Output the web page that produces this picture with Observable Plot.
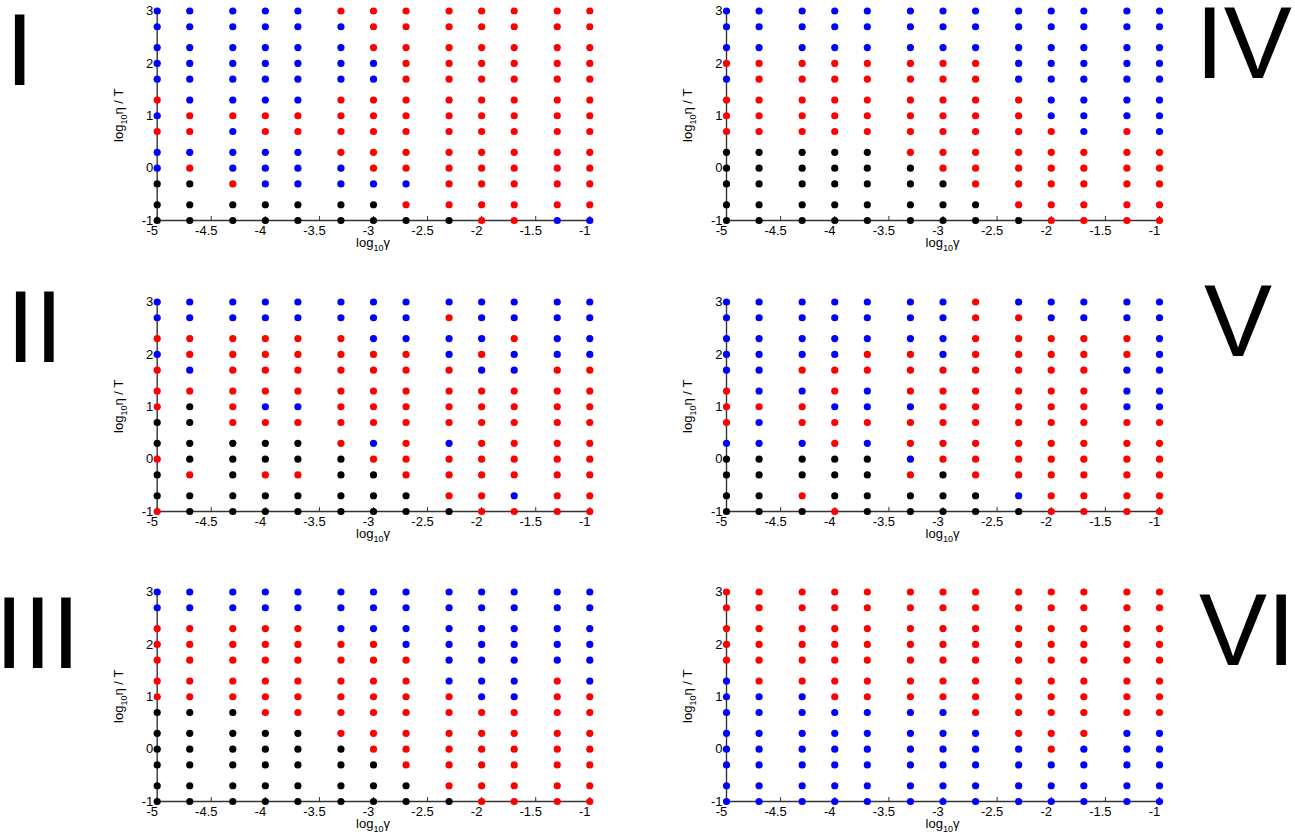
<!DOCTYPE html>
<html>
<head>
<meta charset="utf-8">
<script src="https://cdn.jsdelivr.net/npm/d3@7"></script>
<script src="https://cdn.jsdelivr.net/npm/@observablehq/plot@0.6"></script>
<style>
  html, body { margin: 0; padding: 0; background: #fff; }
  #root { position: relative; width: 1295px; height: 836px; overflow: hidden; background: #fff; }
  .panel { position: absolute; }
  #overlay { position: absolute; left: 0; top: 0; pointer-events: none; }
</style>
</head>
<body>
<div id="root"></div>
<script>
// ---- data ----
const gammaValues = [1e-5, 2e-5, 5e-5, 1e-4, 2e-4, 5e-4, 1e-3, 2e-3, 5e-3, 1e-2, 2e-2, 5e-2, 1e-1];
const etaValues = [1000, 500, 200, 100, 50, 20, 10, 5, 2, 1, 0.5, 0.2, 0.1]; // rows, top to bottom
const xTickValues = [-5, -4.5, -4, -3.5, -3, -2.5, -2, -1.5, -1];
const yTickValues = [-1, 0, 1, 2, 3];
const panelNames = ["I", "II", "III", "IV", "V", "VI"];
const stateColors = { k: "#000000", r: "#ff0000", b: "#0000ff" };

const panelI = [
  "bbbbbrrrrrrrr",
  "bbbbbbrrrrrrr",
  "bbbbbbrrrrrrr",
  "bbbbbbbrrrrrr",
  "bbbbbbbrrrrrr",
  "rbbbbrrrrrrrr",
  "brrrrrrrrrrrr",
  "rrbrrrrrrrrrr",
  "bbbbbrrrrrrrr",
  "brbbbbrrrrrrr",
  "kkrbbbbbrrrrr",
  "kkkkkkkrrrrrr",
  "kkkkkkkkkrrbb"
];
const panelII = [
  "bbbbbbbbbbbbb",
  "bbbbbbbbrbbbb",
  "rrrrrrbbbbrbb",
  "brrrrrrrbrbbb",
  "rbrrrrrrrbbrr",
  "rrrrrrrrrrrrr",
  "rkrbbrrrrrrrr",
  "kkrrrrrrrrrrr",
  "kkkkkrbrbrrrr",
  "rkkkkkrrrrrrr",
  "krkrrkkrrrrrr",
  "kkkkkkkkrrbrr",
  "rkkkkkkkkrrrr"
];
const panelIII = [
  "bbbbbbbbbbbbb",
  "bbbbbbbbbbbbb",
  "rrrrrbbbbbbbb",
  "rrrrrrrbbbbbb",
  "rrrrrrrrbbbbb",
  "rrrrrrrrbbbrb",
  "rrrrrrrrrbbrr",
  "kkkrrrrrrrrrr",
  "kkkkkrrrrrrrr",
  "kkkkkkrrrrrrr",
  "kkkkkkkrrrrrr",
  "kkkkkkkkrrrrr",
  "kkkkkkkkkrrrr"
];
const panelIV = [
  "bbbbbbbbbbbbb",
  "bbbbbbbbbbbbb",
  "bbbbbbbbbbbbb",
  "rrrrrrrrbbbbb",
  "brrrrrrrbbbbb",
  "rrrrrrrrrbbbb",
  "rrrrrrrrrbbbb",
  "rrrrrrrrrrbrb",
  "kkkkkrrrrrrrr",
  "kkkkkkrrrrrrr",
  "kkkkkkkrrrrrr",
  "kkkkkkkkrrrrr",
  "kkkkkkkkkrrrr"
];
const panelV = [
  "bbbbbbbrbbbbb",
  "bbbbbbbrrbbbb",
  "bbbbbbbrrrrrb",
  "bbbbrrbrrrrrb",
  "bbrrrrrrrrrbb",
  "rbbrbrrrrrrbb",
  "rrrbbbrrrrrbb",
  "rbrrrrrrrrrrr",
  "bbbrbrrrrrrrr",
  "kkkkkbrrrrrrr",
  "kkkkkrkrrrrrr",
  "kkrkkkkkbrrrr",
  "kkkrkkkkkrrrr"
];
const panelVI = [
  "rrrrrrrrrrrrr",
  "rrrrrrrrrrrrr",
  "rrrrrrrrrrrrr",
  "rrrrrrrrrrrrr",
  "rrrrrrrrrrrrr",
  "brrrrrrrrrrrr",
  "bbbrrrrrrrrrr",
  "bbbbbbbrrrrrr",
  "bbbbbbbbrrrbb",
  "bbbbbbbbbrbbb",
  "bbbbbbbbbbbbb",
  "bbbbbbbbbbbbb",
  "bbbbbbbbbbbbb"
];
const panelStates = [panelI, panelII, panelIII, panelIV, panelV, panelVI];

// ---- layout ----
const FONT = "'Liberation Sans', Arial, Helvetica, sans-serif";
const root = document.getElementById("root");
const colLayout = [
  { left: 0, width: 620, ml: 156.7, mr: 30.7 },
  { left: 640, width: 560, ml: 86, mr: 41 }
];
const rowTops = [0, 290.5, 581.2];
const H = 260, MT = 10.5, MB = 40;
const numeralPos = [
  { x: 5.4, y: 85 }, { x: 6.4, y: 362.3 }, { x: -4.9, y: 668.3 },
  { x: 1195.4, y: 78.3 }, { x: 1204, y: 356 }, { x: 1199, y: 665 }
];

function buildData(rows) {
  const out = [];
  rows.forEach((row, i) => {
    [...row].forEach((c, j) => {
      out.push({ x: Math.log10(gammaValues[j]), y: Math.log10(etaValues[i]), c: stateColors[c] });
    });
  });
  return out;
}

panelStates.forEach((rows, p) => {
  const col = colLayout[p < 3 ? 0 : 1];
  const top = rowTops[p % 3];
  const pw = col.width - col.ml - col.mr;
  const ph = H - MT - MB;
  const data = buildData(rows);
  const svg = Plot.plot({
    width: col.width,
    height: H,
    marginLeft: col.ml,
    marginRight: col.mr,
    marginTop: MT,
    marginBottom: MB,
    x: { domain: [-5, -1] },
    y: { domain: [-1, 3] },
    color: { type: "identity" },
    style: { fontFamily: FONT, fontSize: "13px", color: "#000", background: "transparent", overflow: "visible" },
    marks: [
      Plot.ruleX(xTickValues, { x: d => d, stroke: "#333", strokeWidth: 1, insetTop: ph - 4 }),
      Plot.ruleY(yTickValues, { y: d => d, stroke: "#333", strokeWidth: 1, insetRight: pw - 4 }),
      Plot.ruleX([-5], { stroke: "#333", strokeWidth: 1.4 }),
      Plot.ruleY([-1], { stroke: "#333", strokeWidth: 1.4 }),
      Plot.axisX({ ticks: xTickValues, tickSize: 0, tickPadding: 5, tickFormat: d => String(d), label: null, dx: -5, fontSize: 13 }),
      Plot.axisY({ ticks: yTickValues, tickSize: 0, tickPadding: 4, tickFormat: d => String(d), label: null, fontSize: 13 }),
      Plot.dot(data, { x: "x", y: "y", fill: "c", r: 3.6, stroke: null })
    ]
  });
  svg.classList.add("panel");
  svg.style.left = col.left + "px";
  svg.style.top = top + "px";
  svg.style.position = "absolute";

  const s = d3.select(svg);
  const xl = s.append("text")
    .attr("x", col.ml + pw / 2).attr("y", MT + ph + 26.5)
    .attr("text-anchor", "middle").attr("font-size", 13)
    .attr("font-family", FONT).attr("fill", "#000");
  xl.append("tspan").text("log");
  xl.append("tspan").attr("font-size", 9).attr("dy", 4).text("10");
  xl.append("tspan").attr("dy", -4).text("γ");

  const yl = s.append("text")
    .attr("transform", `translate(${col.ml - 34},${MT + ph / 2}) rotate(-90)`)
    .attr("text-anchor", "middle").attr("font-size", 13)
    .attr("font-family", FONT).attr("fill", "#000");
  yl.append("tspan").text("log");
  yl.append("tspan").attr("font-size", 9).attr("dy", 4).text("10");
  yl.append("tspan").attr("dy", -4).text("η / T");

  root.appendChild(svg);
});

// roman numerals overlay
const overlay = d3.select(root).append("svg")
  .attr("id", "overlay").attr("width", 1295).attr("height", 836);
overlay.selectAll("text").data(panelNames).join("text")
  .attr("x", (d, i) => numeralPos[i].x)
  .attr("y", (d, i) => numeralPos[i].y)
  .attr("font-family", FONT)
  .attr("font-size", 102)
  .attr("fill", "#000")
  .text(d => d);
</script>
</body>
</html>
